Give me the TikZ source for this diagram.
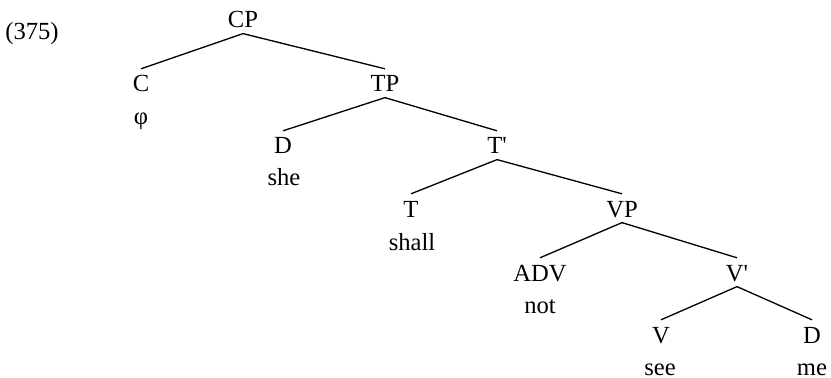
\documentclass[tikz,border=0pt]{standalone}
\usepackage{fontspec}
\setmainfont{Liberation Serif}
\usetikzlibrary{positioning}

\begin{document}
\begin{tikzpicture}[
		x=0.02cm, y=-0.02cm,
		font=\fontsize{14}{16}\selectfont,
		% Style for the category labels
		cat/.style={anchor=base, inner xsep=1pt, inner ysep=0pt,
			text height=1.3em, text depth=0.3em},
		% Style for the words under the leaves
		word/.style={anchor=base, inner sep=0pt},
		% Style for the branches
		branch/.style={line width=0.75pt}
		]
		\useasboundingbox (0,0) rectangle (831,378);
		
		% --- 1. Example number ---
		\node[word] (exnum) at (32, 40) {(375)};
		
		% --- 2. Category labels ---
		\node[cat] (CP)  at (243, 28)  {CP};
		\node[cat] (C)   at (141, 92)  {C};
		\node[cat] (TP)  at (385, 92)  {TP};
		\node[cat] (D1)  at (283, 154) {D};
		\node[cat] (Tb)  at (497, 154) {T\textquotesingle};
		\node[cat] (T)   at (411, 217) {T};
		\node[cat] (VP)  at (622, 217) {VP};
		\node[cat] (ADV) at (540, 281) {ADV};
		\node[cat] (Vb)  at (737, 281) {V\textquotesingle};
		\node[cat] (V)   at (661, 343) {V};
		\node[cat] (D2)  at (812, 343) {D};
		
		% --- 3. Words ---
		\node[word] (w-C)   at (141, 125) {φ};
		\node[word] (w-D1)  at (284, 186) {she};
		\node[word] (w-T)   at (412, 250) {shall};
		\node[word] (w-ADV) at (540, 313) {not};
		\node[word] (w-V)   at (660, 375) {see};
		\node[word] (w-D2)  at (812, 375) {me};
		
		% --- 4. Branches ---
		\draw[branch] (CP.south) -- (C.north);
		\draw[branch] (CP.south) -- (TP.north);
		\draw[branch] (TP.south) -- (D1.north);
		\draw[branch] (TP.south) -- (Tb.north);
		\draw[branch] (Tb.south) -- (T.north);
		\draw[branch] (Tb.south) -- (VP.north);
		\draw[branch] (VP.south) -- (ADV.north);
		\draw[branch] (VP.south) -- (Vb.north);
		\draw[branch] (Vb.south) -- (V.north);
		\draw[branch] (Vb.south) -- (D2.north);
		
	\end{tikzpicture}
\end{document}
